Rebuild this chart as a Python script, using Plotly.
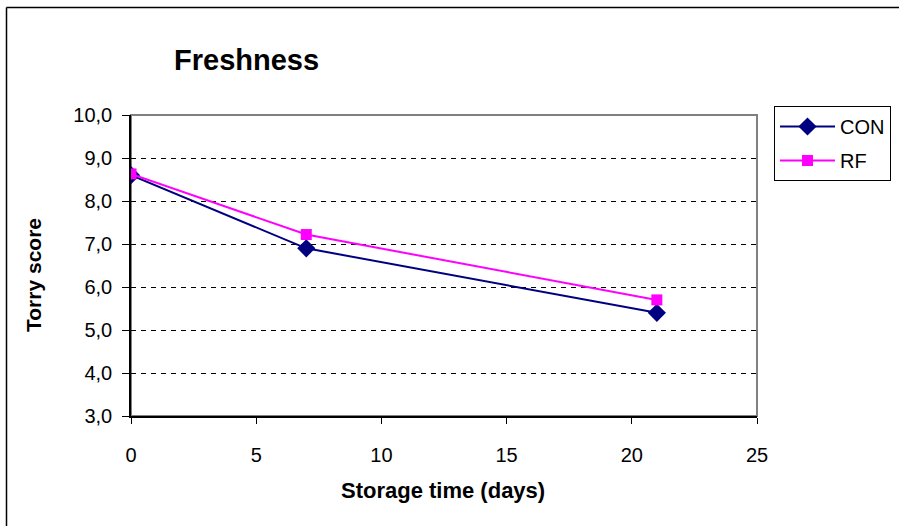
import plotly.graph_objects as go

days = [0, 7, 21]
con_scores = [8.6, 6.9, 5.4]
rf_scores = [8.63, 7.22, 5.7]

FONT = "Arial, 'Liberation Sans', sans-serif"

L, R, T, B = 131, 143, 115, 110
W, H = 900, 526
pw, ph = W - L - R, H - T - B

def px(x):
    return (x - L) / pw

def py(y):
    return (H - B - y) / ph

fig = go.Figure()
fig.add_trace(go.Scatter(
    x=days, y=con_scores, name="CON", mode="lines+markers",
    line=dict(color="#000080", width=2),
    marker=dict(symbol="diamond", size=14, color="#000080"),
    legendgroup="a",
))
fig.add_trace(go.Scatter(
    x=days, y=rf_scores, name="RF", mode="lines+markers",
    line=dict(color="#FF00FF", width=2),
    marker=dict(symbol="square", size=11, color="#FF00FF"),
    legendgroup="b",
))

fig.update_layout(
    width=W, height=H,
    margin=dict(l=L, r=R, t=T, b=B, autoexpand=False),
    paper_bgcolor="white", plot_bgcolor="white",
    separators=",.",
    font=dict(family=FONT, size=20, color="black"),
    showlegend=True,
    legend=dict(
        xref="container", yref="container",
        x=774 / W, y=1 - 106 / H, xanchor="left", yanchor="top",
        bordercolor="black", borderwidth=1, bgcolor="white",
        font=dict(size=20), tracegroupgap=5,
        itemwidth=55,
    ),
)

fig.update_xaxes(
    range=[0, 25], dtick=5, tick0=0,
    showgrid=False, zeroline=False,
    showline=True, linecolor="black", linewidth=1.5,
    ticks="outside", ticklen=6, tickcolor="black",
    ticklabelstandoff=14,
    tickfont=dict(size=20),
)
fig.update_yaxes(
    range=[3, 10], dtick=1, tick0=3, tickformat=".1f",
    showgrid=True, gridcolor="black", gridwidth=1, griddash="5px,5px",
    zeroline=False,
    showline=True, linecolor="black", linewidth=1.5,
    ticks="outside", ticklen=7, tickcolor="black",
    ticklabelstandoff=6,
    tickfont=dict(size=20),
)

# plot area frame (gray top/right)
fig.add_shape(type="rect", xref="paper", yref="paper", x0=0, x1=1, y0=0, y1=1,
              line=dict(color="#808080", width=2), layer="below")
# outer chart frame: only left and top edges are visible in the picture
fig.add_shape(type="line", xref="paper", yref="paper",
              x0=px(6.5), x1=px(6.5), y0=py(530), y1=py(7.5),
              line=dict(color="black", width=1.5), layer="below")
fig.add_shape(type="line", xref="paper", yref="paper",
              x0=px(6.5), x1=px(899), y0=py(7.5), y1=py(7.5),
              line=dict(color="black", width=1.5), layer="below")

fig.add_annotation(text="<b>Freshness</b>", xref="paper", yref="paper",
                   x=px(246), y=py(60), xanchor="center", yanchor="middle",
                   showarrow=False, font=dict(size=29, family=FONT))
fig.add_annotation(text="<b>Storage time (days)</b>", xref="paper", yref="paper",
                   x=px(443), y=py(490), xanchor="center", yanchor="middle",
                   showarrow=False, font=dict(size=22, family=FONT))
fig.add_annotation(text="<b>Torry score</b>", xref="paper", yref="paper",
                   x=px(33), y=py(275), xanchor="center", yanchor="middle",
                   textangle=-90,
                   showarrow=False, font=dict(size=21, family=FONT))

fig.write_html("out.html")
